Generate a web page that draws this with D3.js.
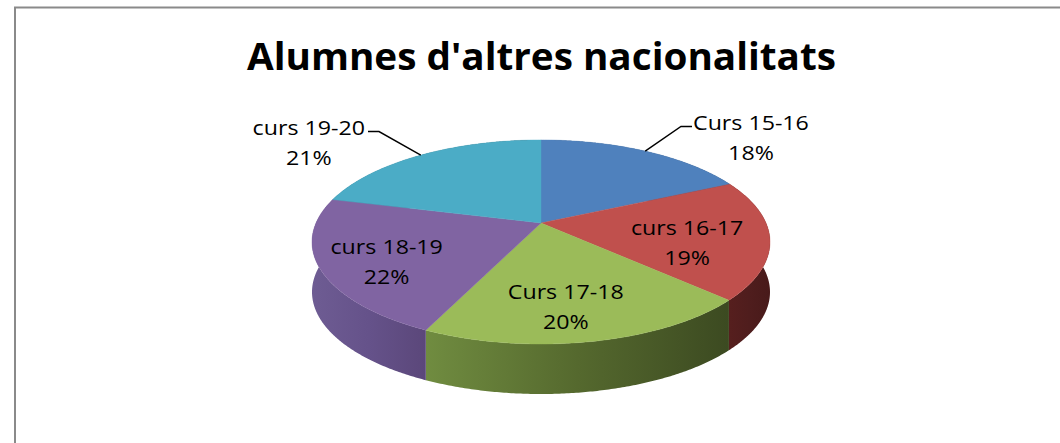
<!DOCTYPE html>
<html><head><meta charset="utf-8">
<script src="https://cdn.jsdelivr.net/npm/d3@7"></script>
<style>html,body{margin:0;padding:0;background:#fff;}svg{display:block}</style>
</head><body>
<svg id="chart" width="1060" height="443"></svg>
<script>
// ---- data ----
const chartTitle = "Alumnes d'altres nacionalitats";
const categories = ["Curs 15-16", "curs 16-17", "Curs 17-18", "curs 18-19", "curs 19-20"];
const values = [18, 19, 20, 22, 21];
const topColors = ["#4F81BD", "#C0504D", "#9BBB59", "#8064A2", "#4BACC6"];

// ---- geometry (perspective projection of a tilted disc) ----
const cx = 541, cy = 223;      // projected pie centre
const A = 225, B = 98.5, K = 0.186; // horizontal / vertical radii, perspective factor
const depth = 50;

function proj(t, r, dy) {
  const u = r * Math.sin(t), v = r * Math.cos(t);
  const d = 1 + K * v;
  return [cx + A * u / d, cy - B * v / d + (dy || 0)];
}

const svg = d3.select("#chart");
const defs = svg.append("defs");

// chart area border
svg.append("rect").attr("x", 15).attr("y", 7.5).attr("width", 1100).attr("height", 500)
  .attr("fill", "none").attr("stroke", "#8a8a8a").attr("stroke-width", 2);

// title
svg.append("text").attr("x", 541.5).attr("y", 70).attr("text-anchor", "middle")
  .attr("font-family", "'Open Sans', 'Noto Sans', sans-serif").attr("font-weight", "bold")
  .attr("font-size", 37).attr("textLength", 589).attr("lengthAdjust", "spacingAndGlyphs")
  .attr("fill", "#000").text(chartTitle);

const pie = d3.pie().sort(null).value(d => d);
const arcs = pie(values);
const total = d3.sum(values);
const step = Math.PI / 360;

function rimPoints(a0, a1, dy) {
  const n = Math.max(2, Math.ceil((a1 - a0) / step));
  return d3.range(n + 1).map(i => proj(a0 + (a1 - a0) * i / n, 1, dy));
}

// side shading per slice (lighter on the left, darker on the right)
const sideStops = topColors.map(c => [
  d3.color(c).darker(0.85).formatHex(),
  d3.color(c).darker(1.35).formatHex(),
  d3.color(c).darker(1.85).formatHex()
]);
sideStops[1] = ["#561f1e", "#4f1d1d", "#481a1a"];
sideStops[2] = ["#708c40", "#55692e", "#3c4a21"];
sideStops[3] = ["#6e5c93", "#65528a", "#5b477a"];

const sideG = svg.append("g");
arcs.forEach((a, i) => {
  const top = rimPoints(a.startAngle, a.endAngle, 0);
  const bot = rimPoints(a.startAngle, a.endAngle, depth).reverse();
  const xs = top.map(p => p[0]);
  const gid = "side" + i;
  const g = defs.append("linearGradient").attr("id", gid)
    .attr("gradientUnits", "userSpaceOnUse")
    .attr("x1", d3.min(xs)).attr("x2", d3.max(xs)).attr("y1", 0).attr("y2", 0);
  sideStops[i].forEach((c, j) => g.append("stop").attr("offset", j / 2).attr("stop-color", c));
  sideG.append("path")
    .attr("d", d3.line()(top.concat(bot)) + "Z")
    .attr("fill", `url(#${gid})`);
});

// top faces
const topG = svg.append("g");
arcs.forEach((a, i) => {
  const pts = [[cx, cy]].concat(rimPoints(a.startAngle, a.endAngle, 0));
  topG.append("path").attr("d", d3.line()(pts) + "Z")
    .attr("fill", topColors[i]).attr("stroke", topColors[i]).attr("stroke-width", 0.4);
});

// labels
const labelFont = "'Open Sans', 'Noto Sans', sans-serif";
const fs = 20, sx = 1.16, lineGap = 30;
const labG = svg.append("g");

function addLine(x, y, str, anchor) {
  labG.append("text")
    .attr("transform", `translate(${x},${y}) scale(${sx},1)`)
    .attr("text-anchor", anchor || "middle").attr("dominant-baseline", "central")
    .attr("font-family", labelFont).attr("font-size", fs).attr("fill", "#000")
    .text(str);
}
function measure(str) {
  const t = svg.append("text").attr("font-family", labelFont).attr("font-size", fs).text(str);
  const w = t.node().getComputedTextLength() * sx;
  t.remove();
  return w;
}

arcs.forEach((a, i) => {
  const mid = (a.startAngle + a.endAngle) / 2;
  const pct = Math.round(a.data / total * 100) + "%";
  const name = categories[i];
  if (Math.cos(mid) > 0.5) {
    // outside label with leader line
    const p0 = proj(mid, 1, 0);
    const p1 = proj(mid, 1.42, 0);
    const dir = Math.sin(mid) >= 0 ? 1 : -1;
    const p2 = [p1[0] + dir * 11, p1[1]];
    labG.append("path").attr("d", d3.line()([p0, p1, p2]))
      .attr("fill", "none").attr("stroke", "#000").attr("stroke-width", 1.4);
    const w = Math.max(measure(name), measure(pct));
    const xc = dir > 0 ? p2[0] + 1 + w / 2 : p2[0] - 3 - w / 2;
    addLine(xc, p1[1] - 4, name);
    addLine(xc, p1[1] - 4 + lineGap, pct);
  } else {
    const p = proj(mid, 0.68, 8);
    addLine(p[0] - 8, p[1] - lineGap / 2, name);
    addLine(p[0] - 8, p[1] + lineGap / 2, pct);
  }
});
</script>
</body></html>
